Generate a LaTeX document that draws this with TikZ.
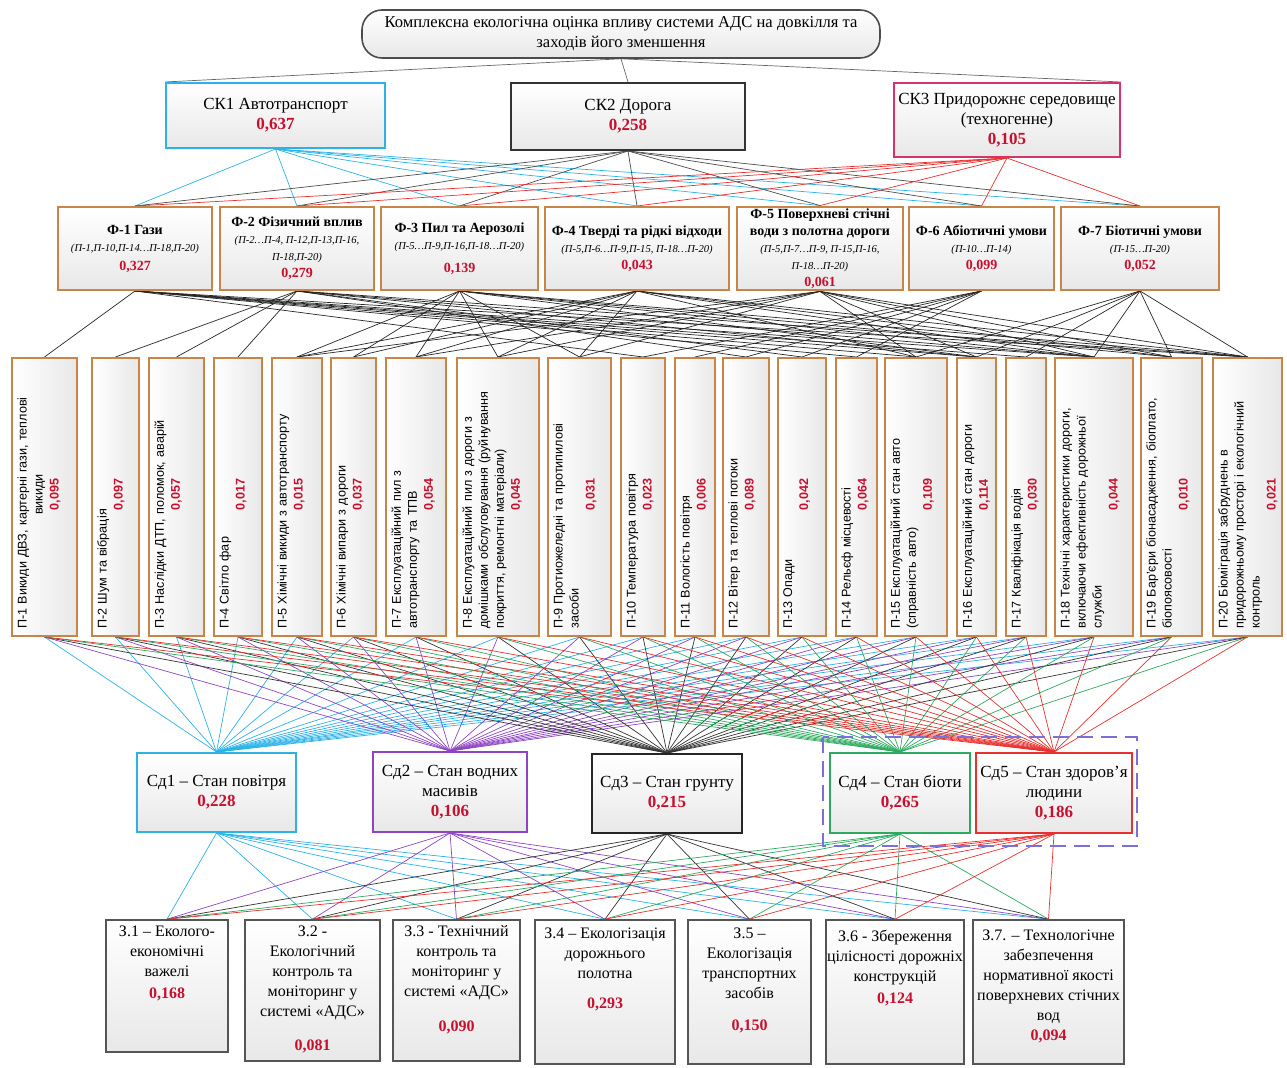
\documentclass[tikz,border=0pt]{standalone}
\usepackage{fontspec}
\setmainfont{Liberation Serif}
\setsansfont{Liberation Sans}
\usetikzlibrary{calc,backgrounds}
\definecolor{ckcyan}{HTML}{2BB3E6}
\definecolor{ckred}{HTML}{D6336A}
\definecolor{lnred}{HTML}{E8312F}
\definecolor{fbrown}{HTML}{C98548}
\definecolor{valred}{HTML}{C8102E}
\definecolor{sdviolet}{HTML}{8E44C4}
\definecolor{sdgreen}{HTML}{2DAA5F}
\definecolor{dashblue}{HTML}{7B6FD9}
\definecolor{zgray}{HTML}{555555}
\newcommand{\val}[1]{\textcolor{valred}{\bfseries #1}}
\newcommand{\pnote}[3]{\node[ptext] (#1t) at ($(#1.south west)+(2pt,3pt)$) {#2\par{\centering\val{#3}\par}};}
\tikzset{
  shadebox/.style={top color=white,bottom color=black!9},
  ckbox/.style={shadebox,line width=1pt,align=center,inner sep=2pt,font=\fontsize{8.5}{10}\selectfont},
  fbox/.style={shadebox,draw=fbrown,line width=1pt,align=center,inner sep=1pt,minimum height=41.5pt,font=\fontsize{7}{8.5}\selectfont},
  pbox/.style={left color=white,right color=black!9,draw=fbrown,line width=1pt,minimum height=139pt},
  ptext/.style={rotate=90,anchor=north west,text width=134pt,align=left,inner sep=1pt,font=\sffamily\fontsize{6.3}{8}\selectfont},
  sdbox/.style={shadebox,line width=1pt,align=center,inner sep=2pt,font=\fontsize{8.5}{10}\selectfont},
  zbox/.style={shadebox,draw=zgray,line width=0.8pt},
  ztext/.style={anchor=north,align=center,inner sep=1pt,font=\fontsize{8}{10}\selectfont},
  link/.style={line width=0.35pt}
}
\newcommand{\ftl}[1]{{\bfseries #1}}
\newcommand{\fls}[1]{{\itshape\fontsize{5.3}{7}\selectfont #1}}
\begin{document}
\begin{tikzpicture}[x=0.5pt,y=-0.5pt]
\useasboundingbox (0,0) rectangle (1287,1068);
% goal
\node[shadebox,draw=black!70,line width=0.8pt,rounded corners=10pt,minimum width=259pt,minimum height=24pt,align=center,inner sep=1pt,font=\fontsize{8.3}{10}\selectfont] (top) at (621,34)
  {Комплексна екологічна оцінка впливу системи АДС на довкілля та\\заходів його зменшення};
% criteria
\node[ckbox,draw=ckcyan,minimum width=109.5pt,minimum height=32.5pt] (ck1) at (275.5,115.5) {СК1 Автотранспорт\\\val{0,637}};
\node[ckbox,draw=black!80,minimum width=117pt,minimum height=33.5pt] (ck2) at (628,116.5) {СК2 Дорога\\\val{0,258}};
\node[ckbox,draw=ckred,minimum width=110pt,minimum height=37pt] (ck3) at (1007,120) {СК3 Придорожнє середовище\\(техногенне)\\\val{0,105}};
% factors
\node[fbox,minimum width=77pt] (f1) at (135,248.5) {\ftl{Ф-1 Гази}\\\fls{(П-1,П-10,П-14…П-18,П-20)}\\[1pt]\val{0,327}};
\node[fbox,minimum width=77pt] (f2) at (297,248.5) {\ftl{Ф-2 Фізичний вплив}\\\fls{(П-2…П-4, П-12,П-13,П-16,}\\\fls{П-18,П-20)}\\\val{0,279}};
\node[fbox,minimum width=78.5pt] (f3) at (459.5,248.5) {\ftl{Ф-3 Пил та Аерозолі}\\\fls{(П-5…П-9,П-16,П-18…П-20)}\\[3pt]\val{0,139}};
\node[fbox,minimum width=92pt] (f4) at (637,248.5) {\ftl{Ф-4 Тверді та рідкі відходи}\\\fls{(П-5,П-6…П-9,П-15, П-18…П-20)}\\\val{0,043}};
\node[fbox,minimum width=83pt] (f5) at (820,248.5) {\ftl{Ф-5 Поверхневі стічні}\\\ftl{води з полотна дороги}\\\fls{(П-5,П-7…П-9, П-15,П-16,}\\\fls{П-18…П-20)}\\\val{0,061}};
\node[fbox,minimum width=72.5pt] (f6) at (981.5,248.5) {\ftl{Ф-6 Абіотичні умови}\\\fls{(П-10…П-14)}\\\val{0,099}};
\node[fbox,minimum width=79pt] (f7) at (1140,248.5) {\ftl{Ф-7 Біотичні умови}\\\fls{(П-15…П-20)}\\\val{0,052}};
% parameters
\node[pbox,minimum width=32.5pt] (p1) at (44.5,497) {};
\node[pbox,minimum width=23.5pt] (p2) at (115.5,497) {};
\node[pbox,minimum width=27.5pt] (p3) at (176.5,497) {};
\node[pbox,minimum width=24pt] (p4) at (238,497) {};
\node[pbox,minimum width=25pt] (p5) at (297,497) {};
\node[pbox,minimum width=22.5pt] (p6) at (353.5,497) {};
\node[pbox,minimum width=30pt] (p7) at (416,497) {};
\node[pbox,minimum width=41pt] (p8) at (498,497) {};
\node[pbox,minimum width=31.5pt] (p9) at (579.5,497) {};
\node[pbox,minimum width=22pt] (p10) at (643,497) {};
\node[pbox,minimum width=20pt] (p11) at (695,497) {};
\node[pbox,minimum width=23pt] (p12) at (746,497) {};
\node[pbox,minimum width=24pt] (p13) at (802,497) {};
\node[pbox,minimum width=20.5pt] (p14) at (856.5,497) {};
\node[pbox,minimum width=31pt] (p15) at (916,497) {};
\node[pbox,minimum width=19.5pt] (p16) at (976.5,497) {};
\node[pbox,minimum width=20pt] (p17) at (1026,497) {};
\node[pbox,minimum width=39pt] (p18) at (1094,497) {};
\node[pbox,minimum width=30.5pt] (p19) at (1171.5,497) {};
\node[pbox,minimum width=34.5pt] (p20) at (1247.5,497) {};
\pnote{p1}{П-1 Викиди ДВЗ, картерні гази, теплові\par{\centering викиди\par}}{0,095}
\pnote{p2}{П-2 Шум та вібрація}{0,097}
\pnote{p3}{П-3 Наслідки ДТП, поломок, аварій}{0,057}
\pnote{p4}{П-4 Світло фар}{0,017}
\pnote{p5}{П-5 Хімічні викиди з автотранспорту}{0,015}
\pnote{p6}{П-6 Хімічні випари з дороги}{0,037}
\pnote{p7}{П-7 Експлуатаційний пил з\\автотранспорту та ТПВ}{0,054}
\pnote{p8}{П-8 Експлуатаційний пил з дороги з\\домішками обслуговування (руйнування\\покриття, ремонтні матеріали)}{0,045}
\pnote{p9}{П-9 Протиожеледні та протипилові\\засоби}{0,031}
\pnote{p10}{П-10 Температура повітря}{0,023}
\pnote{p11}{П-11 Вологість повітря}{0,006}
\pnote{p12}{П-12 Вітер та теплові потоки}{0,089}
\pnote{p13}{П-13 Опади}{0,042}
\pnote{p14}{П-14 Рельєф місцевості}{0,064}
\pnote{p15}{П-15 Експлуатаційний стан авто\\(справність авто)}{0,109}
\pnote{p16}{П-16 Експлуатаційний стан дороги}{0,114}
\pnote{p17}{П-17 Кваліфікація водія}{0,030}
\pnote{p18}{П-18 Технічні характеристики дороги,\\включаючи ефективність дорожньої\\служби}{0,044}
\pnote{p19}{П-19 Бар'єри біонасадження, біоплато,\\біопоясовості}{0,010}
\pnote{p20}{П-20 Біоміграція забруднень в\\придорожньому просторі і екологічний\\контроль}{0,021}
% states
\node[sdbox,draw=ckcyan,minimum width=79.5pt,minimum height=39.5pt] (sd1) at (216.5,792.5) {Сд1 – Стан повітря\\\val{0,228}};
\node[sdbox,draw=sdviolet,minimum width=77pt,minimum height=40pt] (sd2) at (450,792) {Сд2 – Стан водних\\масивів\\\val{0,106}};
\node[sdbox,draw=black!85,minimum width=75pt,minimum height=39.5pt] (sd3) at (667,793.5) {Сд3 – Стан грунту\\\val{0,215}};
\node[sdbox,draw=sdgreen,minimum width=70pt,minimum height=40pt] (sd4) at (900,793) {Сд4 – Стан біоти\\\val{0,265}};
\node[sdbox,draw=lnred,minimum width=75pt,minimum height=40pt] (sd5) at (1054,793) {Сд5 – Стан здоров'я\\людини\\\val{0,186}};
\draw[dashblue,line width=1.2pt,dash pattern=on 8pt off 4pt] (823,737) rectangle (1137,846);
% measures
\node[zbox,minimum width=61pt,minimum height=66pt] (z1) at (167,986) {};
\node[zbox,minimum width=67.5pt,minimum height=70.5pt] (z2) at (312.5,990.5) {};
\node[zbox,minimum width=63.5pt,minimum height=70.5pt] (z3) at (456.5,990.5) {};
\node[zbox,minimum width=70pt,minimum height=72pt] (z4) at (605,992) {};
\node[zbox,minimum width=61.5pt,minimum height=72pt] (z5) at (749.5,992) {};
\node[zbox,minimum width=69pt,minimum height=72pt] (z6) at (895,992) {};
\node[zbox,minimum width=75.5pt,minimum height=72pt] (z7) at (1048.5,992) {};
\node[ztext] (z1t) at ($(z1.north)+(0,-2pt)$) {З.1 – Еколого-\\економічні\\важелі\\[1pt]\val{0,168}};
\node[ztext] (z2t) at ($(z2.north)+(0,-2pt)$) {З.2 -\\Екологічний\\контроль та\\моніторинг у\\системі «АДС»\\[7pt]\val{0,081}};
\node[ztext] (z3t) at ($(z3.north)+(0,-2pt)$) {З.3 - Технічний\\контроль та\\моніторинг у\\системі «АДС»\\[7.5pt]\val{0,090}};
\node[ztext] (z4t) at ($(z4.north)+(0,-3pt)$) {З.4 – Екологізація\\дорожнього\\полотна\\[5pt]\val{0,293}};
\node[ztext] (z5t) at ($(z5.north)+(0,-3pt)$) {З.5 –\\Екологізація\\транспортних\\засобів\\[6pt]\val{0,150}};
\node[ztext] (z6t) at ($(z6.north)+(0,-4pt)$) {З.6 - Збереження\\цілісності дорожніх\\конструкцій\\[1pt]\val{0,124}};
\node[ztext] (z7t) at ($(z7.north)+(0,-4pt)$) {З.7. – Технологічне\\забезпечення\\нормативної якості\\поверхневих стічних\\вод\\\val{0,094}};
% connectors
\begin{scope}[on background layer]
\draw[link,black!60] (top.south) -- (ck1.north west);
\draw[link,black!60] (top.south) -- (ck2.north);
\draw[link,black!60] (top.south) -- (ck3.north east);
\foreach \k/\c in {1/ckcyan,2/black!70,3/lnred}
  \foreach \f in {1,...,7}
    \draw[link,\c] (ck\k.south) -- (f\f.north);
\foreach \f/\plist in {1/{1,10,14,15,16,17,18,20},2/{2,3,4,12,13,16,18,20},3/{5,6,7,8,9,16,18,19,20},4/{5,6,7,8,9,15,18,19,20},5/{5,7,8,9,15,16,18,19,20},6/{10,11,12,13,14},7/{15,16,17,18,19,20}}
  \foreach \p in \plist
    \draw[link,black!85] (f\f.south) -- (p\p.north);
\foreach \s/\c in {1/ckcyan,2/sdviolet,3/black!80,4/sdgreen,5/lnred}
  \foreach \p in {1,...,20}
    \draw[link,\c] (p\p.south) -- (sd\s.north);
\foreach \s/\c in {1/ckcyan,2/sdviolet,3/black!80,4/sdgreen,5/lnred}
  \foreach \z in {1,...,7}
    \draw[link,\c] (sd\s.south) -- (z\z.north);
\end{scope}
\end{tikzpicture}
\end{document}
